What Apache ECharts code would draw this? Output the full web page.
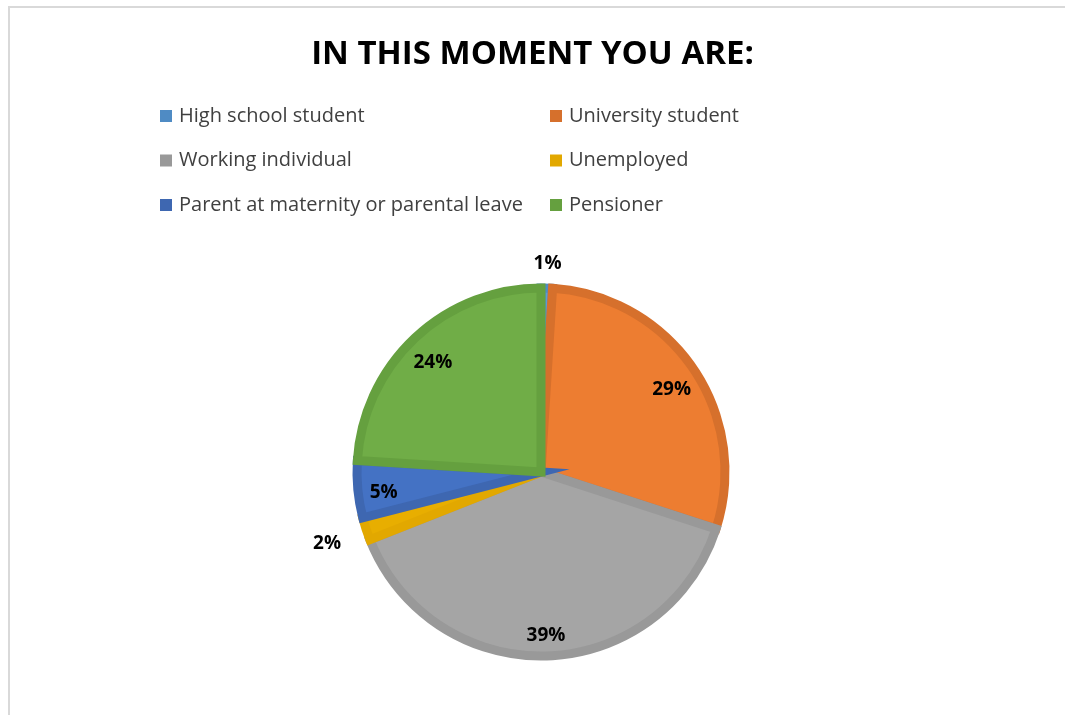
<!DOCTYPE html>
<html>
<head>
<meta charset="utf-8">
<script src="https://cdn.jsdelivr.net/npm/echarts@6/dist/echarts.min.js"></script>
<style>
html,body{margin:0;padding:0;background:#fff;}
#chart{width:1065px;height:715px;}
</style>
</head>
<body>
<div id="chart"></div>
<script>
const titleText = "IN THIS MOMENT YOU ARE:";
const categories = ["High school student", "University student", "Working individual", "Unemployed", "Parent at maternity or parental leave", "Pensioner"];
const values = [1, 29, 39, 2, 5, 24];
const fillColors = ["#5B9BD5", "#ED7D31", "#A5A5A5", "#E8AE00", "#4472C4", "#70AD47"];
const borderColors = ["#4F8BC4", "#D6702C", "#999999", "#E2A800", "#3E67B1", "#65A03F"];
const outerLabelA = ["High school student"];
const outerLabelB = ["Unemployed"];
const legendCol1 = ["High school student", "Working individual", "Parent at maternity or parental leave"];
const legendCol2 = ["University student", "Unemployed", "Pensioner"];

const chart = echarts.init(document.getElementById('chart'), null, {renderer: 'canvas'});
const FONT = 'Open Sans';
const idx = n => categories.indexOf(n);
const outerAll = outerLabelA.concat(outerLabelB);

const mainData = categories.map((c, i) => ({
  name: c, value: values[i],
  itemStyle: {color: fillColors[i], borderColor: borderColors[i]}
}));
const labelSeriesData = (filter) => categories.map((c, i) => ({
  name: c, value: values[i], label: {show: filter(c)}
}));

const labelStyle = {
  position: 'inside', formatter: '{d}%',
  fontFamily: FONT, fontSize: 19, fontWeight: 'bold', color: '#000000'
};
function labelSeries(name, center, radius, filter) {
  return {
    type: 'pie', name: name, silent: true,
    center: center, radius: radius,
    startAngle: 90, clockwise: true,
    itemStyle: {color: 'rgba(0,0,0,0)', borderWidth: 0},
    label: labelStyle, labelLine: {show: false},
    emphasis: {disabled: true},
    data: labelSeriesData(filter)
  };
}

function legendFor(list, left) {
  return {
    orient: 'vertical', left: left, top: 101, itemGap: 24.5,
    itemWidth: 12, itemHeight: 12, icon: 'rect',
    selectedMode: false,
    textStyle: {fontFamily: FONT, fontSize: 20, color: '#404040', padding: [0, 0, 0, 2]},
    data: list.map(n => ({name: n, itemStyle: {color: borderColors[idx(n)], borderWidth: 0}}))
  };
}

chart.setOption({
  animation: false,
  backgroundColor: '#ffffff',
  title: {
    text: titleText, left: 'center', top: 33,
    textStyle: {fontFamily: FONT, fontSize: 33, fontWeight: 'bold', color: '#000000'}
  },
  legend: [legendFor(legendCol1, 155), legendFor(legendCol2, 545)],
  graphic: [{
    type: 'rect', silent: true,
    shape: {x: 9, y: 7, width: 1200, height: 800},
    style: {fill: 'none', stroke: '#d9d9d9', lineWidth: 2}
  }],
  series: [{
    type: 'pie', name: 'main',
    center: [541, 472], radius: [0, 184],
    startAngle: 90, clockwise: true,
    itemStyle: {borderWidth: 9, borderJoin: 'miter'},
    label: {show: false}, labelLine: {show: false},
    emphasis: {disabled: true},
    data: mainData
  },
  labelSeries('innerLabels', [541, 478], [120, 190], c => !outerAll.includes(c)),
  labelSeries('outerLabelsA', [541, 472], [196, 216], c => outerLabelA.includes(c)),
  labelSeries('outerLabelsB', [541, 474], [210, 234], c => outerLabelB.includes(c))
  ]
});
</script>
</body>
</html>
